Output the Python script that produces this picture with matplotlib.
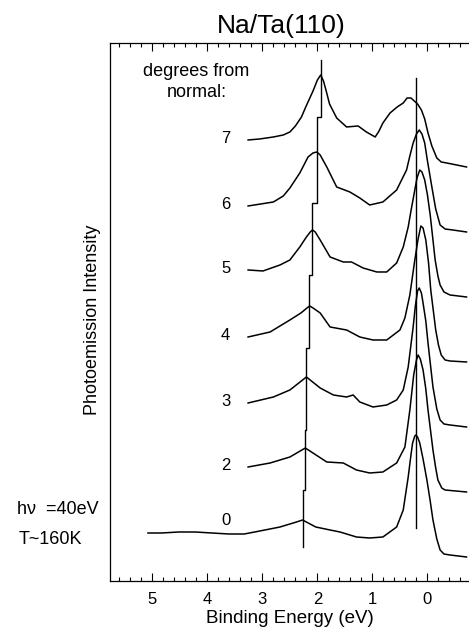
import numpy as np
import matplotlib.pyplot as plt

plt.rcParams['font.family'] = ['Liberation Sans', 'DejaVu Sans']

# angle labels (degrees from normal), top to bottom
angles = ['7', '6', '5', '4', '3', '2', '0']

# binding energy (eV) / intensity (arb. units, offsets included)
be_7 = [3.26, 3.05, 2.80, 2.62, 2.50, 2.40, 2.29, 2.22, 2.08, 2.00, 1.94, 1.89,
        1.84, 1.78, 1.65, 1.47, 1.26, 1.11, 0.95, 0.88, 0.81, 0.68, 0.55, 0.44,
        0.37, 0.30, 0.26, 0.18, 0.11, 0.05, -0.01, -0.08, -0.17, -0.25, -0.35, -0.71]
int_7 = [441, 442, 444, 446, 449, 455, 464, 473, 490, 501, 506, 500,
         490, 477, 463, 454, 455, 449, 444, 450, 458, 468, 474, 478,
         483, 483, 481, 477, 471, 462, 448, 435, 423, 419, 418, 414]

be_6 = [3.26, 2.80, 2.62, 2.50, 2.32, 2.17, 2.08, 2.01, 1.95, 1.89, 1.83, 1.65,
        1.41, 1.23, 1.05, 0.81, 0.56, 0.38, 0.32, 0.26, 0.20, 0.15, 0.10, 0.05,
        0.00, -0.08, -0.15, -0.23, -0.32, -0.46, -0.71]
int_6 = [375, 379, 385, 393, 408, 424, 428, 429, 426, 420, 414, 394,
         389, 383, 376, 379, 391, 411, 425, 438, 447, 451, 447, 438,
         420, 394, 372, 356, 352, 351, 349]

be_5 = [3.26, 2.99, 2.68, 2.50, 2.32, 2.20, 2.13, 2.09, 2.04, 1.95, 1.77, 1.53,
        1.38, 1.17, 0.92, 0.74, 0.56, 0.44, 0.35, 0.30, 0.25, 0.19, 0.14, 0.10,
        0.05, 0.00, -0.05, -0.14, -0.19, -0.23, -0.30, -0.41, -0.71]
int_5 = [311, 310, 316, 321, 334, 344, 349, 351, 349, 341, 324, 319,
         319, 313, 309, 309, 318, 334, 354, 370, 385, 403, 411, 409,
         401, 386, 366, 321, 305, 296, 289, 286, 284]

be_4 = [3.26, 2.86, 2.50, 2.30, 2.19, 2.14, 2.08, 1.95, 1.77, 1.47, 1.23, 0.99,
        0.74, 0.50, 0.41, 0.32, 0.23, 0.17, 0.12, 0.08, 0.03, -0.02, -0.06, -0.15,
        -0.20, -0.25, -0.32, -0.41, -0.71]
int_4 = [244, 249, 261, 268, 273, 275, 273, 268, 254, 251, 244, 241,
         241, 251, 263, 286, 321, 342, 355, 353, 341, 318, 291, 251,
         236, 226, 221, 220, 219]

be_3 = [3.26, 2.80, 2.50, 2.20, 1.95, 1.71, 1.47, 1.35, 1.23, 0.99, 0.74, 0.56,
        0.44, 0.35, 0.26, 0.22, 0.18, 0.15, 0.11, 0.08, 0.03, -0.01, -0.10, -0.17,
        -0.23, -0.30, -0.41, -0.71]
int_3 = [178, 184, 191, 204, 193, 186, 184, 186, 179, 174, 176, 181,
         191, 214, 254, 275, 290, 293, 288, 278, 260, 238, 194, 172,
         161, 157, 156, 154]

be_2 = [3.26, 2.86, 2.50, 2.22, 1.83, 1.53, 1.29, 1.05, 0.81, 0.56, 0.41, 0.32,
        0.25, 0.20, 0.17, 0.13, 0.08, 0.03, -0.01, -0.10, -0.15, -0.19, -0.26,
        -0.32, -0.71]
int_2 = [114, 118, 124, 133, 119, 118, 111, 108, 109, 118, 134, 171,
         206, 221, 226, 222, 211, 192, 171, 131, 113, 101, 93,
         91, 89]

be_0 = [5.08, 4.83, 4.52, 4.22, 3.92, 3.61, 3.33, 3.14, 2.68, 2.38, 2.27, 2.03,
        1.77, 1.59, 1.29, 1.05, 0.81, 0.56, 0.44, 0.35, 0.30, 0.27, 0.23, 0.21,
        0.18, 0.14, 0.08, 0.01, -0.05, -0.10, -0.17, -0.23, -0.30, -0.41, -0.71]
int_0 = [48, 48, 49, 49, 48, 47, 47, 49, 54, 59, 61, 54,
         51, 49, 44, 43, 44, 54, 71, 104, 126, 138, 145, 146,
         144, 138, 122, 101, 80, 61, 42, 31, 27, 26, 24]

energies = [be_7, be_6, be_5, be_4, be_3, be_2, be_0]
intens = [int_7, int_6, int_5, int_4, int_3, int_2, int_0]

# dispersing peak marker (stepped line) and near-EF marker
stair_be = [1.94, 2.01, 2.09, 2.15, 2.20, 2.22, 2.27]
stair_edges = [521, 464, 378, 306, 233, 151, 91, 34]
ef_peak_be = 0.21
ef_line = [53, 503]

fig = plt.figure(figsize=(4.69, 6.32), dpi=100)
ax = fig.add_axes([0.2345, 0.0807, 0.7655, 0.8513])

for be, it in zip(energies, intens):
    ax.plot(be, it, color='black', lw=1.1)

xs = np.repeat(stair_be, 2)
ys = np.column_stack([stair_edges[:-1], stair_edges[1:]]).ravel()
ax.plot(xs, ys, color='black', lw=1.0)
ax.plot([ef_peak_be, ef_peak_be], ef_line, color='black', lw=1.0)

# angle labels next to the start of each curve
for lab, be, it in zip(angles, energies, intens):
    yv = np.interp(3.67, be[::-1], it[::-1])
    off = 13 if be[0] > 3.67 else 1
    ax.text(3.67, yv + off, lab, ha='center', va='center', fontsize=12)

ax.text(4.2, 499, 'degrees from\nnormal:', ha='center', va='center',
        fontsize=13, linespacing=1.3)

ax.set_xlim(5.77, -0.755)
ax.set_ylim(0, 538)
ax.set_xticks([5, 4, 3, 2, 1, 0])
ax.set_xticks(np.arange(-0.6, 5.75, 0.2), minor=True)
ax.set_yticks([])
ax.tick_params(axis='x', which='both', direction='in', top=True, width=0.8,
               labelsize=12, pad=8)
ax.tick_params(axis='x', which='major', length=5.5)
ax.tick_params(axis='x', which='minor', length=2.7)
ax.spines['right'].set_visible(False)
for s in ['left', 'top', 'bottom']:
    ax.spines[s].set_linewidth(0.9)

ax.set_xlabel('Binding Energy (eV)', fontsize=13.5, labelpad=2)
ax.set_ylabel('Photoemission Intensity', fontsize=13)
ax.yaxis.set_label_coords(-0.025, 0.485)
ax.set_title('Na/Ta(110)', fontsize=19, x=0.476, pad=7)

fig.text(0.1226, 0.1946, 'h\u03bd  =40eV', ha='center', va='center', fontsize=13)
fig.text(0.1077, 0.147, 'T~160K', ha='center', va='center', fontsize=13)

fig.savefig('out.png', dpi=100)
